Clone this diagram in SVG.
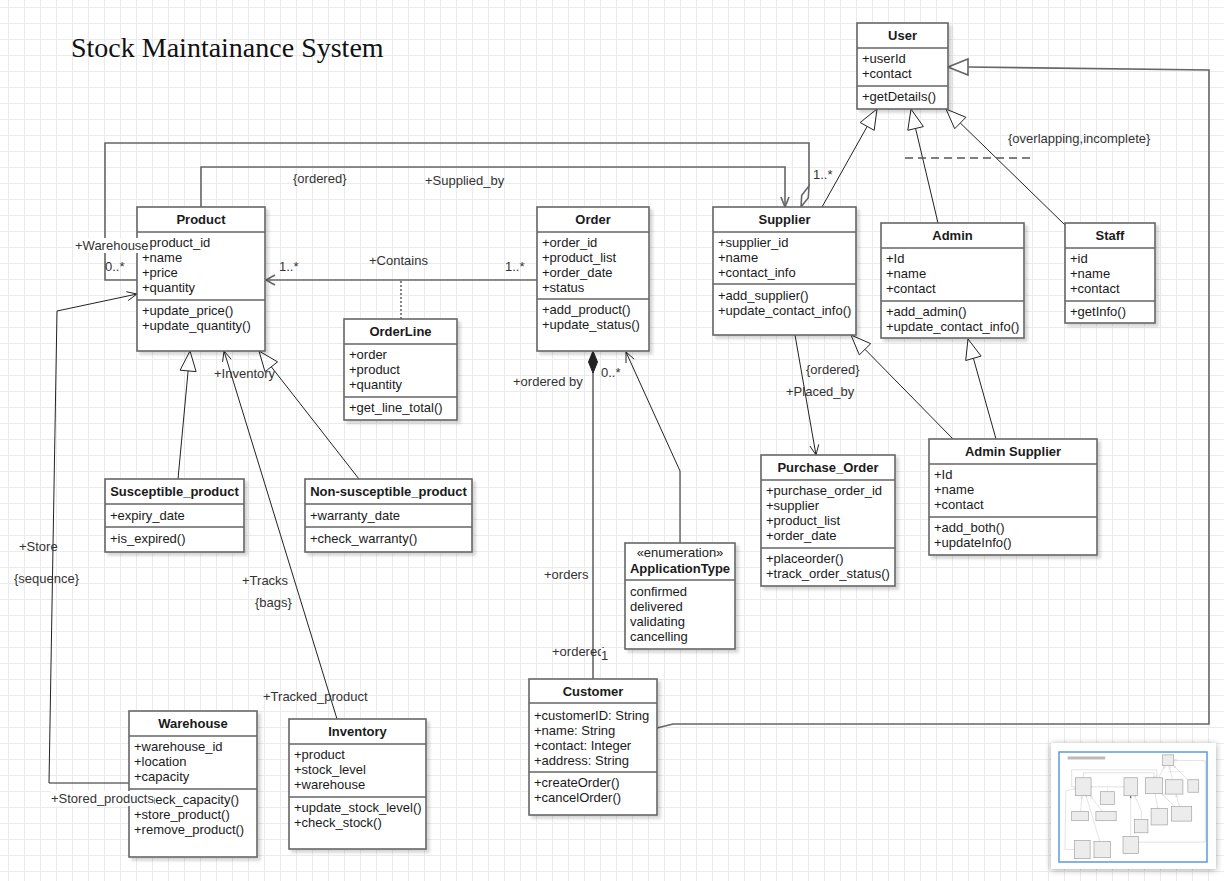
<svg xmlns="http://www.w3.org/2000/svg" xmlns:xlink="http://www.w3.org/1999/xlink" width="1224" height="881" viewBox="0 0 1224 881">
<defs>
<pattern id="grid" patternUnits="userSpaceOnUse" x="8" y="7" width="16" height="16">
<rect width="16" height="16" fill="#fff"/>
<path d="M0,0.5H16M0.5,0V16" stroke="#ebebeb" stroke-width="1" fill="none"/>
</pattern>
<filter id="sh" x="-10%" y="-10%" width="130%" height="130%">
<feDropShadow dx="3" dy="3" stdDeviation="1.5" flood-color="#000" flood-opacity="0.16"/>
</filter>
<filter id="psh" x="-20%" y="-20%" width="140%" height="140%">
<feDropShadow dx="0" dy="1" stdDeviation="3" flood-color="#000" flood-opacity="0.35"/>
</filter>
<style>
.box{fill:#fff;stroke:#666;stroke-width:1.6}
.sep{fill:none;stroke:#666;stroke-width:1.6}
.t{font-family:"Liberation Sans",Arial,Helvetica,sans-serif;font-size:13px;fill:#1a1a1a}
.h{font-weight:bold;text-anchor:middle}
.lbl{font-family:"Liberation Sans",Arial,Helvetica,sans-serif;font-size:13px;fill:#333}
.edge{fill:none;stroke:#666;stroke-width:1.6}
.thin{fill:none;stroke:#222;stroke-width:1}
.tri{fill:#fff;stroke:#222;stroke-width:1}
.trig{fill:#fff;stroke:#666;stroke-width:1.6}
.dash{fill:none;stroke:#555;stroke-width:1.4;stroke-dasharray:8,5}
.dot{fill:none;stroke:#666;stroke-width:1.6;stroke-dasharray:2,2}
.bg{fill:#fff}
.mini{fill:#ececec;stroke:#999;stroke-width:5}
</style>
</defs>
<rect x="0" y="0" width="1224" height="881" fill="url(#grid)"/>

<g id="title">
<text x="71" y="57" font-family="'Liberation Serif','Times New Roman',serif" font-size="28" fill="#111">Stock Maintainance System</text>
</g>

<g id="connectors">
<path class="edge" d="M137,280H105V143H809V186"/>
<polygon class="trig" points="809,186 808.3,197.7 801,207 801.7,195.3"/>
<path class="edge" d="M201,207V167H785V206"/>
<path class="edge" d="M781,197L785,207L789,197"/>
<path class="edge" d="M537,280H266"/>
<path class="edge" d="M275,275L266,280L275,285"/>
<path class="dot" d="M401,281V319"/>
<path class="edge" d="M593,372V679"/>
<polygon points="593,351 597.5,362 593,373 588.5,362" fill="#222" stroke="#222" stroke-width="1"/>
<path class="thin" d="M680,543V471L626,352"/>
<path class="thin" d="M634.2,359.2L626,352L626,363"/>
<path class="edge" d="M657,728L673,724H1209V70L968,67"/>
<polygon class="trig" points="948,67 968,59 968,75"/>
<path class="thin" d="M822,207L867.2,126.4"/>
<polygon class="tri" points="877,109 874.2,130.3 860.2,122.5"/>
<path class="thin" d="M938,223L915.6,128.5"/>
<polygon class="tri" points="911,109 923.4,126.6 907.8,130.3"/>
<path class="thin" d="M1065,225L960.3,123"/>
<polygon class="tri" points="946,109 965.9,117.3 954.7,128.7"/>
<path class="dash" d="M905,158H1031"/>
<path class="thin" d="M953,439L865,349.3"/>
<polygon class="tri" points="851,335 870.7,343.7 859.3,354.9"/>
<path class="thin" d="M996,439L973.4,358.3"/>
<polygon class="tri" points="968,339 981.1,356.1 965.7,360.5"/>
<path class="thin" d="M795,335L816,455"/>
<path class="thin" d="M809.9,446L816,455L818.7,444.4"/>
<path class="thin" d="M178,479L188.1,370.9"/>
<polygon class="tri" points="190,351 196.1,371.6 180.1,370.2"/>
<path class="thin" d="M359,479L271.3,366.8"/>
<polygon class="tri" points="259,351 277.6,361.9 265,371.7"/>
<path class="thin" d="M337,719L224,351"/>
<path class="thin" d="M231.2,359.3L224,351L222.6,361.9"/>
<path class="thin" d="M129,783H49L57,311L137,294"/>
<path class="thin" d="M128.2,300.5L137,294L126.3,291.7"/>
</g>

<g id="user">
<rect class="box" x="857" y="23" width="91" height="86" filter="url(#sh)"/>
<path class="sep" d="M857,48H948M857,86H948"/>
<text class="t h" x="902.5" y="40">User</text>
<text class="t" x="862" y="62.5">+userId</text>
<text class="t" x="862" y="77.5">+contact</text>
<text class="t" x="862" y="100.5">+getDetails()</text>
</g>

<g id="product">
<rect class="box" x="137" y="207" width="128" height="144" filter="url(#sh)"/>
<path class="sep" d="M137,232H265M137,300H265"/>
<text class="t h" x="201" y="223.5">Product</text>
<text class="t" x="142" y="246.5">+product_id</text>
<text class="t" x="142" y="261.5">+name</text>
<text class="t" x="142" y="276.5">+price</text>
<text class="t" x="142" y="291.5">+quantity</text>
<text class="t" x="142" y="314.5">+update_price()</text>
<text class="t" x="142" y="329.5">+update_quantity()</text>
</g>

<g id="order">
<rect class="box" x="537" y="207" width="112" height="144" filter="url(#sh)"/>
<path class="sep" d="M537,232H649M537,299H649"/>
<text class="t h" x="593" y="223.5">Order</text>
<text class="t" x="542" y="246.5">+order_id</text>
<text class="t" x="542" y="261.5">+product_list</text>
<text class="t" x="542" y="276.5">+order_date</text>
<text class="t" x="542" y="291.5">+status</text>
<text class="t" x="542" y="313.5">+add_product()</text>
<text class="t" x="542" y="328.5">+update_status()</text>
</g>

<g id="orderline">
<rect class="box" x="344" y="319" width="113" height="101" filter="url(#sh)"/>
<path class="sep" d="M344,344H457M344,397H457"/>
<text class="t h" x="400.5" y="336">OrderLine</text>
<text class="t" x="349" y="358.5">+order</text>
<text class="t" x="349" y="373.5">+product</text>
<text class="t" x="349" y="388.5">+quantity</text>
<text class="t" x="349" y="411.5">+get_line_total()</text>
</g>

<g id="supplier">
<rect class="box" x="713" y="207" width="143" height="128" filter="url(#sh)"/>
<path class="sep" d="M713,232H856M713,284H856"/>
<text class="t h" x="784.5" y="223.5">Supplier</text>
<text class="t" x="718" y="246.5">+supplier_id</text>
<text class="t" x="718" y="261.5">+name</text>
<text class="t" x="718" y="276.5">+contact_info</text>
<text class="t" x="718" y="299.5">+add_supplier()</text>
<text class="t" x="718" y="314.5">+update_contact_info()</text>
</g>

<g id="admin">
<rect class="box" x="881" y="223" width="143" height="115" filter="url(#sh)"/>
<path class="sep" d="M881,248H1024M881,301H1024"/>
<text class="t h" x="952.5" y="240">Admin</text>
<text class="t" x="886" y="262.5">+Id</text>
<text class="t" x="886" y="277.5">+name</text>
<text class="t" x="886" y="292.5">+contact</text>
<text class="t" x="886" y="315.5">+add_admin()</text>
<text class="t" x="886" y="330.5">+update_contact_info()</text>
</g>

<g id="staff">
<rect class="box" x="1065" y="223" width="90" height="100" filter="url(#sh)"/>
<path class="sep" d="M1065,248H1155M1065,301H1155"/>
<text class="t h" x="1110" y="240">Staff</text>
<text class="t" x="1070" y="262.5">+id</text>
<text class="t" x="1070" y="277.5">+name</text>
<text class="t" x="1070" y="292.5">+contact</text>
<text class="t" x="1070" y="315.5">+getInfo()</text>
</g>

<g id="susceptible-product">
<rect class="box" x="105" y="479" width="139" height="73" filter="url(#sh)"/>
<path class="sep" d="M105,504H244M105,527H244"/>
<text class="t h" x="174.5" y="496">Susceptible_product</text>
<text class="t" x="110" y="519.5">+expiry_date</text>
<text class="t" x="110" y="542.5">+is_expired()</text>
</g>

<g id="non-susceptible-product">
<rect class="box" x="305" y="479" width="167" height="73" filter="url(#sh)"/>
<path class="sep" d="M305,504H472M305,527H472"/>
<text class="t h" x="388.5" y="496">Non-susceptible_product</text>
<text class="t" x="310" y="519.5">+warranty_date</text>
<text class="t" x="310" y="542.5">+check_warranty()</text>
</g>

<g id="warehouse">
<rect class="box" x="129" y="711" width="128" height="146" filter="url(#sh)"/>
<path class="sep" d="M129,736H257M129,789H257"/>
<text class="t h" x="193" y="727.5">Warehouse</text>
<text class="t" x="134" y="750.5">+warehouse_id</text>
<text class="t" x="134" y="765.5">+location</text>
<text class="t" x="134" y="780.5">+capacity</text>
<text class="t" x="134" y="803.5">+check_capacity()</text>
<text class="t" x="134" y="818.5">+store_product()</text>
<text class="t" x="134" y="833.5">+remove_product()</text>
</g>

<g id="inventory">
<rect class="box" x="289" y="719" width="137" height="130" filter="url(#sh)"/>
<path class="sep" d="M289,744H426M289,797H426"/>
<text class="t h" x="357.5" y="735.5">Inventory</text>
<text class="t" x="294" y="758.5">+product</text>
<text class="t" x="294" y="773.5">+stock_level</text>
<text class="t" x="294" y="788.5">+warehouse</text>
<text class="t" x="294" y="811.5">+update_stock_level()</text>
<text class="t" x="294" y="826.5">+check_stock()</text>
</g>

<g id="application-type">
<rect class="box" x="625" y="543" width="110" height="106" filter="url(#sh)"/>
<path class="sep" d="M625,580H735"/>
<text class="t" x="680" y="557" text-anchor="middle" font-size="12">«enumeration»</text>
<text class="t h" x="680" y="573">ApplicationType</text>
<text class="t" x="630" y="596">confirmed</text>
<text class="t" x="630" y="611">delivered</text>
<text class="t" x="630" y="626">validating</text>
<text class="t" x="630" y="641">cancelling</text>
</g>

<g id="customer">
<rect class="box" x="529" y="679" width="128" height="136" filter="url(#sh)"/>
<path class="sep" d="M529,703H657M529,772H657"/>
<text class="t h" x="593" y="695.5">Customer</text>
<text class="t" x="534" y="719.5">+customerID: String</text>
<text class="t" x="534" y="734.5">+name: String</text>
<text class="t" x="534" y="749.5">+contact: Integer</text>
<text class="t" x="534" y="764.5">+address: String</text>
<text class="t" x="534" y="786.5">+createOrder()</text>
<text class="t" x="534" y="801.5">+cancelOrder()</text>
</g>

<g id="purchase-order">
<rect class="box" x="761" y="455" width="134" height="131" filter="url(#sh)"/>
<path class="sep" d="M761,480H895M761,548H895"/>
<text class="t h" x="828" y="471.5">Purchase_Order</text>
<text class="t" x="766" y="494.5">+purchase_order_id</text>
<text class="t" x="766" y="509.5">+supplier</text>
<text class="t" x="766" y="524.5">+product_list</text>
<text class="t" x="766" y="539.5">+order_date</text>
<text class="t" x="766" y="562.5">+placeorder()</text>
<text class="t" x="766" y="577.5">+track_order_status()</text>
</g>

<g id="admin-supplier">
<rect class="box" x="929" y="439" width="168" height="116" filter="url(#sh)"/>
<path class="sep" d="M929,464H1097M929,517H1097"/>
<text class="t h" x="1013" y="455.5">Admin Supplier</text>
<text class="t" x="934" y="478.5">+Id</text>
<text class="t" x="934" y="493.5">+name</text>
<text class="t" x="934" y="508.5">+contact</text>
<text class="t" x="934" y="531.5">+add_both()</text>
<text class="t" x="934" y="546.5">+updateInfo()</text>
</g>

<g id="labels">
<rect class="bg" x="74" y="238" width="75" height="15"/>
<text class="lbl" x="75" y="249.5">+Warehouse</text>
<text class="lbl" x="105" y="270.5">0..*</text>
<text class="lbl" x="293" y="182.5">{ordered}</text>
<text class="lbl" x="425" y="184.5">+Supplied_by</text>
<text class="lbl" x="813" y="178.5">1..*</text>
<text class="lbl" x="279" y="270.5">1..*</text>
<text class="lbl" x="369" y="264.5">+Contains</text>
<text class="lbl" x="505" y="270.5">1..*</text>
<text class="lbl" x="513" y="385.5">+ordered by</text>
<text class="lbl" x="601" y="376.5">0..*</text>
<text class="lbl" x="544" y="578.5">+orders</text>
<text class="lbl" x="552" y="655.5">+ordered</text>
<rect class="bg" x="601" y="648" width="8" height="14"/>
<text class="lbl" x="601" y="659.5">1</text>
<text class="lbl" x="806" y="373.5">{ordered}</text>
<text class="lbl" x="786" y="395.5">+Placed_by</text>
<text class="lbl" x="1008" y="142.5">{overlapping,incomplete}</text>
<text class="lbl" x="214" y="377.5">+Inventory</text>
<text class="lbl" x="242" y="584.5">+Tracks</text>
<text class="lbl" x="255" y="606.5">{bags}</text>
<text class="lbl" x="263" y="700.5">+Tracked_product</text>
<text class="lbl" x="19" y="550.5">+Store</text>
<text class="lbl" x="14" y="582.5">{sequence}</text>
<rect class="bg" x="50" y="791" width="104" height="15"/>
<text class="lbl" x="51" y="802.5">+Stored_products</text>
</g>

<g id="outline-panel">
<rect x="1051" y="743" width="165" height="126" fill="#fff" filter="url(#psh)"/>
<g transform="translate(1059,752) scale(0.121,0.1245)">
<rect x="71" y="36" width="311" height="24" fill="#bbb"/>
<use xlink:href="#connectors" href="#connectors"/>
<rect class="mini" x="857" y="23" width="91" height="86"/>
<rect class="mini" x="137" y="207" width="128" height="144"/>
<rect class="mini" x="537" y="207" width="112" height="144"/>
<rect class="mini" x="344" y="319" width="113" height="101"/>
<rect class="mini" x="713" y="207" width="143" height="128"/>
<rect class="mini" x="881" y="223" width="143" height="115"/>
<rect class="mini" x="1065" y="223" width="90" height="100"/>
<rect class="mini" x="105" y="479" width="139" height="73"/>
<rect class="mini" x="305" y="479" width="167" height="73"/>
<rect class="mini" x="129" y="711" width="128" height="146"/>
<rect class="mini" x="289" y="719" width="137" height="130"/>
<rect class="mini" x="625" y="543" width="110" height="106"/>
<rect class="mini" x="529" y="679" width="128" height="136"/>
<rect class="mini" x="761" y="455" width="134" height="131"/>
<rect class="mini" x="929" y="439" width="168" height="116"/>
</g>
<rect x="1059" y="752" width="148" height="110" fill="none" stroke="#5b9bd5" stroke-width="1.5"/>
</g>
</svg>
